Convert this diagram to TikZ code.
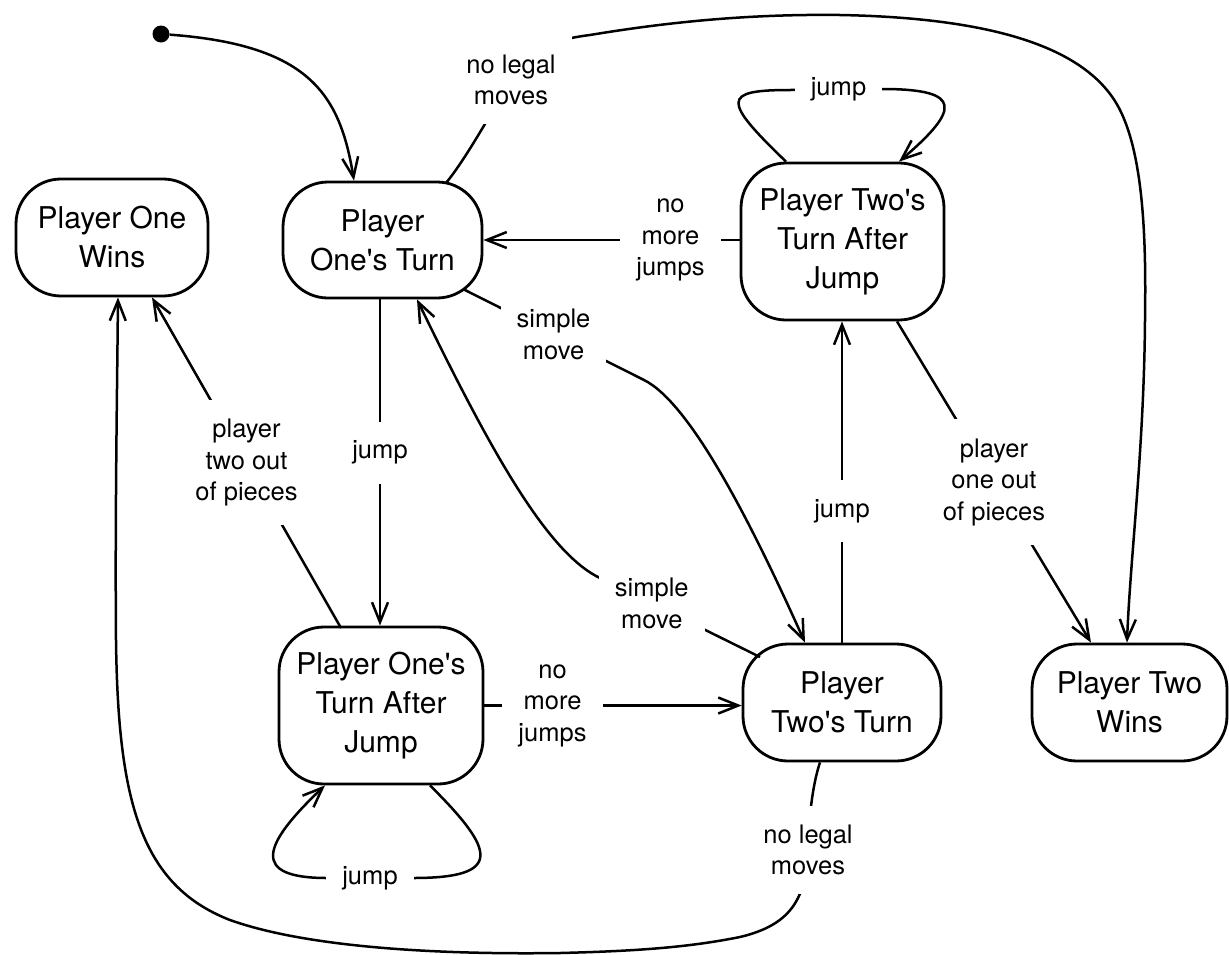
\documentclass[tikz,border=0pt]{standalone}
\usepackage{fontspec}
\newfontfamily\hel{TeX Gyre Heros}
\usetikzlibrary{arrows.meta,calc}
\begin{document}
\begin{tikzpicture}[x=1pt,y=-1pt,
  state/.style={draw, line width=2.8pt, rounded corners=45pt, align=center,
    inner sep=0pt, font=\hel\fontsize{30}{39}\selectfont},
  lbl/.style={fill=white, align=center, inner xsep=16pt, inner ysep=19pt,
    font=\hel\fontsize{25.5}{31.5}\selectfont},
  arr/.style={line width=2.5pt, -{Straight Barb[length=20pt,width=16pt]}}]
\useasboundingbox (0,0) rectangle (1229,954);

% states
\node[state, minimum width=192pt, minimum height=117pt] (p1win)  at (112,237.5)   {Player One\\Wins};
\node[state, minimum width=199pt, minimum height=116pt] (p1turn) at (382.5,240)   {Player\\One's Turn};
\node[state, minimum width=203pt, minimum height=157pt] (p2taj)  at (842.5,241.5) {Player Two's\\Turn After\\Jump};
\node[state, minimum width=204pt, minimum height=157pt] (p1taj)  at (381,705.5)   {Player One's\\Turn After\\Jump};
\node[state, minimum width=198pt, minimum height=117pt] (p2turn) at (842,702.5)   {Player\\Two's Turn};
\node[state, minimum width=195pt, minimum height=117pt] (p2win)  at (1129.5,702.5) {Player Two\\Wins};
\node[circle, fill, inner sep=0pt, minimum size=17pt] (init) at (161,34) {};

% initial transition
\draw[arr] (init) .. controls (310,45) and (340,95) .. (354,0 |- p1turn.north);

% player one has no legal moves: player two wins
\draw[arr] ($(p1turn)+(63.5,-57)$) .. controls (465,160) and (490,115) .. (511,80)
  node[lbl] {no legal\\moves}
  .. controls (530,50) and (550,40) .. (590,35)
  .. controls (680,20) and (760,14) .. (840,15)
  .. controls (1000,18) and (1090,50) .. (1120,110)
  .. controls (1145,160) and (1146,250) .. (1145,320)
  .. controls (1144,450) and (1130,560) .. (1127,0 |- p2win.north);

% player two has no legal moves: player one wins
\draw[arr] (820,0 |- p2turn.south) .. controls (814,780) and (809,810) .. (808,850)
  node[lbl] {no legal\\moves}
  .. controls (806,900) and (790,925) .. (740,937)
  .. controls (690,947) and (640,951) .. (560,953)
  .. controls (420,955) and (300,945) .. (230,920)
  .. controls (140,885) and (118,800) .. (116,640)
  .. controls (115,520) and (117,400) .. (118,0 |- p1win.south);

% simple moves between the two turns
\draw[arr] ($(p1turn)+(80.5,49)$) -- node[lbl] {simple\\move} (644,380)
  .. controls (690,403) and (750,520) .. (805,0 |- p2turn.north);
\draw[arr] ($(p2turn)+(-82,-45.5)$) -- node[lbl,pos=0.66] {simple\\move} (596,576)
  .. controls (545,548) and (490,450) .. (417,0 |- p1turn.south);

% jumps
\draw[arr] (380,0 |- p1turn.south) -- node[lbl,pos=0.47] {jump} (380,0 |- p1taj.north);
\draw[arr] (842,0 |- p2turn.north) -- node[lbl,pos=0.41] {jump} (842,0 |- p2taj.south);

% no more jumps
\draw[arr] (p2taj.west |- p1turn.east) -- node[lbl,pos=0.27] {no\\more\\jumps} (p1turn.east);
\draw[arr] (p1taj.east) -- node[lbl,pos=0.265] {no\\more\\jumps} (p2turn.west |- p1taj.east);

% out of pieces
\draw[arr] ($(p1taj)+(-40,-77.5)$) -- node[lbl] {player\\two out\\of pieces} (152,0 |- p1win.south);
\draw[arr] (897,0 |- p2taj.south) -- node[lbl] {player\\one out\\of pieces} (1091,0 |- p2win.north);

% repeated jumps
\draw[arr] (786,0 |- p2taj.north) .. controls (722,100) and (722,90) .. (790,90)
  -- node[lbl] {jump} (887,89)
  .. controls (960,90) and (962,108) .. (899,0 |- p2taj.north);
\draw[arr] (430,0 |- p1taj.south) .. controls (495,850) and (505,878) .. (413,878)
  -- node[lbl] {jump} (327,878)
  .. controls (250,878) and (262,845) .. (325,0 |- p1taj.south);
\end{tikzpicture}
\end{document}
